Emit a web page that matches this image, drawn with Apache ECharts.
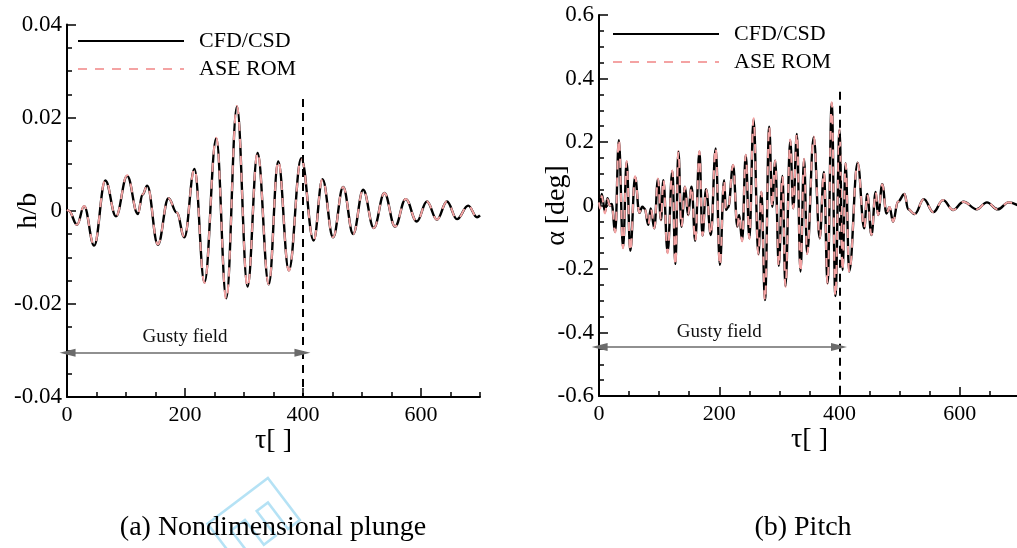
<!DOCTYPE html>
<html>
<head>
<meta charset="utf-8">
<script src="https://cdn.jsdelivr.net/npm/echarts@6/dist/echarts.min.js"></script>
<style>
html,body{margin:0;padding:0;background:#fff;}
#c{width:1017px;height:548px;}
</style>
</head>
<body>
<div id="c"></div>
<script>
// ---------- data ----------
var xMajorTicks = [0, 200, 400, 600];

// (a) Nondimensional plunge h/b
var plungeTau = [0, 3, 17, 29, 46, 65, 83, 102, 120, 128, 136, 154, 172, 186, 199, 216, 233, 253, 270, 288,
  306, 323, 342, 358, 376, 397, 418, 433, 451, 468, 485, 502, 520, 538, 556, 574, 593, 610, 627, 644,
  661, 680, 695, 700];
var plungeCfd = [0.0002, 0, -0.003, 0.001, -0.0075, 0.0065, -0.0012, 0.0075, -0.0007, 0.0035, 0.0054, -0.0073, 0.0027, -0.0004, -0.0057, 0.009, -0.0154, 0.0156, -0.0188, 0.0224,
  -0.0163, 0.0124, -0.0158, 0.0106, -0.0128, 0.0113, -0.0064, 0.0068, -0.0057, 0.0051, -0.005, 0.0045, -0.0037, 0.0038, -0.0034, 0.0025, -0.0023, 0.002, -0.0019, 0.002,
  -0.0018, 0.0011, -0.0014, -0.001];
var plungeRom = [0.0002, 0, -0.003, 0.001, -0.0074, 0.0066, -0.0012, 0.0076, -0.0007, 0.0035, 0.0054, -0.0072, 0.0027, -0.0004, -0.0057, 0.009, -0.0155, 0.0157, -0.0191, 0.0225,
  -0.0164, 0.0125, -0.0158, 0.0107, -0.0129, 0.0112, -0.0064, 0.0068, -0.0057, 0.0051, -0.005, 0.0045, -0.0037, 0.0038, -0.0034, 0.0025, -0.0023, 0.002, -0.0019, 0.002,
  -0.0018, 0.0011, -0.0014, -0.001];

// (b) Pitch alpha [deg]
var pitchTau = [0, 2, 4.5, 10, 14, 18, 21, 27, 33, 40, 46, 52, 60, 67, 72, 76, 82, 86, 92, 98,
  103, 107, 114, 122, 127, 132, 137, 143, 148, 154, 160, 167, 172, 178, 186, 194, 201, 208, 211, 215,
  223, 230, 233, 238, 244, 250, 257, 265, 270, 276, 283, 288, 293, 299, 305, 310, 318, 323, 329, 335,
  341, 346, 357, 367, 374, 380, 387, 393, 400, 405, 410, 416, 430, 441, 446, 453, 460, 464, 471, 478,
  483, 489, 497, 508, 514, 525, 540, 556, 572, 589, 606, 628, 645, 663, 681, 700];
var pitchCfd = [0.01, 0, 0.036, -0.02, 0.023, 0, 0.005, -0.083, 0.206, -0.132, 0.138, -0.143, 0.09, -0.023, -0.004, -0.01, -0.061, -0.009, -0.072, 0.083,
  -0.046, 0.08, -0.147, 0.109, -0.184, 0.17, -0.067, 0.059, -0.03, 0.059, -0.111, 0.17, -0.095, 0.051, -0.093, 0.18, -0.187, 0.08, -0.014, -0.005,
  0.127, -0.067, -0.03, -0.111, 0.159, -0.103, 0.271, -0.153, 0.043, -0.298, 0.248, -0.004, 0.141, -0.19, 0.093, -0.254, 0.206, -0.009, 0.225, -0.208,
  0.146, -0.151, 0.215, -0.103, 0.106, -0.245, 0.322, -0.285, 0.238, -0.203, 0.133, -0.208, 0.135, -0.072, 0.036, -0.093, 0.043, -0.03, 0.067, -0.025,
  -0.005, -0.051, 0.012, 0.036, -0.012, -0.027, 0.02, -0.021, 0.017, -0.014, 0.012, -0.012, 0.01, -0.012, 0.01, -0.004];
var pitchRom = [0.01, -0.01, 0.03, -0.025, 0.02, 0, 0.005, -0.085, 0.21, -0.135, 0.14, -0.145, 0.092, -0.023, -0.004, -0.01, -0.061, -0.009, -0.072, 0.085,
  -0.046, 0.082, -0.15, 0.11, -0.19, 0.172, -0.067, 0.059, -0.03, 0.059, -0.113, 0.172, -0.095, 0.051, -0.093, 0.182, -0.19, 0.08, -0.014, -0.005,
  0.128, -0.067, -0.03, -0.113, 0.16, -0.105, 0.275, -0.155, 0.043, -0.3, 0.25, -0.004, 0.142, -0.192, 0.093, -0.256, 0.208, -0.009, 0.227, -0.21,
  0.147, -0.153, 0.217, -0.103, 0.106, -0.247, 0.325, -0.287, 0.24, -0.205, 0.133, -0.21, 0.135, -0.072, 0.036, -0.093, 0.043, -0.03, 0.067, -0.025,
  -0.005, -0.051, 0.012, 0.036, -0.012, -0.027, 0.02, -0.021, 0.017, -0.014, 0.012, -0.012, 0.01, -0.012, 0.01, -0.004];

// ---------- build chart ----------
function pairs(xs, ys) { return xs.map(function (x, i) { return [x, ys[i]]; }); }

var SERIF = '"Liberation Serif", "Times New Roman", serif';
var BLACK = '#000000';
var PINK = '#f4a3a3';
var GRAY = '#6b6b6b';

function minorXAxis(g) {
  return {
    type: 'value', gridIndex: g, position: 'bottom', min: 0, max: 700, interval: 50,
    axisLine: { show: true, onZero: false, lineStyle: { color: BLACK, width: 2 } },
    axisTick: { show: true, inside: true, length: 5, lineStyle: { color: BLACK, width: 1.5 } },
    axisLabel: { show: false }, splitLine: { show: false }
  };
}
function majorXAxis(g, gap) {
  return {
    type: 'value', gridIndex: g, position: 'bottom', min: 0, max: 700, interval: 200,
    name: 'τ[ ]', nameLocation: 'middle', nameGap: gap, nameMoveOverlap: false,
    nameTextStyle: { fontFamily: SERIF, fontSize: 28, color: BLACK },
    axisLine: { show: false, onZero: false },
    axisTick: { show: true, inside: true, length: 9, customValues: xMajorTicks, lineStyle: { color: BLACK, width: 1.5 } },
    axisLabel: { show: true, customValues: xMajorTicks, margin: 7,
      fontFamily: SERIF, fontSize: 22, color: BLACK },
    splitLine: { show: false }
  };
}
function yAxis(g, mn, mx, iv, name, gap) {
  return {
    type: 'value', gridIndex: g, min: mn, max: mx, interval: iv,
    name: name, nameLocation: 'middle', nameGap: gap, nameMoveOverlap: false,
    nameTextStyle: { fontFamily: SERIF, fontSize: 28, color: BLACK },
    axisLine: { show: true, onZero: false, lineStyle: { color: BLACK, width: 2 } },
    axisTick: { show: true, inside: true, length: 9, lineStyle: { color: BLACK, width: 1.5 } },
    minorTick: { show: true, splitNumber: 4, length: 5, lineStyle: { color: BLACK, width: 1.5 } },
    axisLabel: { margin: 5, fontFamily: SERIF, fontSize: 23, color: BLACK },
    splitLine: { show: false }, minorSplitLine: { show: false }
  };
}
function cfdSeries(xi, yi, data, vline) {
  return {
    name: 'CFD/CSD', type: 'line', xAxisIndex: xi, yAxisIndex: yi, data: data,
    symbol: 'none', showSymbol: false, smooth: 0.4, smoothMonotone: 'x',
    lineStyle: { color: BLACK, width: 2.4 }, itemStyle: { color: BLACK },
    z: 3,
    markLine: {
      silent: true, symbol: 'none', animation: false,
      label: { show: false },
      lineStyle: { color: BLACK, width: 2, type: [8, 6] },
      data: [[{ coord: [400, vline[0]] }, { coord: [400, vline[1]] }]]
    }
  };
}
function romSeries(xi, yi, data, arrowY) {
  return {
    name: 'ASE ROM', type: 'line', xAxisIndex: xi, yAxisIndex: yi, data: data,
    symbol: 'none', showSymbol: false, smooth: 0.4, smoothMonotone: 'x',
    lineStyle: { color: PINK, width: 2, type: [9, 8] }, itemStyle: { color: PINK },
    z: 4,
    markLine: {
      silent: true, animation: false,
      symbol: ['triangle', 'triangle'], symbolSize: [8, 16],
      lineStyle: { color: GRAY, width: 1.6, type: 'solid' },
      itemStyle: { color: GRAY },
      label: { show: true, formatter: 'Gusty field', position: 'insideMiddleTop', distance: 6,
        fontFamily: SERIF, fontSize: 19, color: '#111' },
      data: [[{ coord: [1, arrowY] }, { coord: [399, arrowY] }]]
    }
  };
}
function legend(left, top) {
  return {
    left: left, top: top, orient: 'vertical', padding: 0,
    itemWidth: 106, itemHeight: 14, itemGap: 6,
    selectedMode: false, data: ['CFD/CSD', 'ASE ROM'],
    itemStyle: { opacity: 0, borderWidth: 0 },
    textStyle: { fontFamily: SERIF, fontSize: 22, lineHeight: 22, color: BLACK, padding: [0, 0, 0, 10] }
  };
}

var chart = echarts.init(document.getElementById('c'), null, { renderer: 'canvas' });
chart.setOption({
  animation: false,
  backgroundColor: '#ffffff',
  grid: [
    { left: 67, top: 24.5, width: 413, height: 372.5, containLabel: false, outerBoundsMode: 'none' },
    { left: 599, top: 15, width: 421, height: 381, containLabel: false, outerBoundsMode: 'none' }
  ],
  xAxis: [minorXAxis(0), majorXAxis(0, 30), minorXAxis(1), majorXAxis(1, 30)],
  yAxis: [
    yAxis(0, -0.04, 0.04, 0.02, 'h/b', 24),
    yAxis(1, -0.6, 0.6, 0.2, 'α [deg]', 28)
  ],
  legend: [legend(77, 30), legend(612, 23)],
  series: [
    cfdSeries(0, 0, pairs(plungeTau, plungeCfd), [0.024, -0.04]),
    romSeries(0, 0, pairs(plungeTau, plungeRom), -0.0305),
    cfdSeries(2, 1, pairs(pitchTau, pitchCfd), [0.358, -0.6]),
    romSeries(2, 1, pairs(pitchTau, pitchRom), -0.446)
  ],
  graphic: [
    {
      type: 'group', x: 258, y: 486, rotation: -0.92, z: 0, silent: true,
      children: [{
        type: 'text', x: -10, y: -16,
        style: { text: 'E', font: 'bold 104px "DejaVu Sans", sans-serif', fill: 'none',
          stroke: '#b5e2f5', lineWidth: 2.5, textAlign: 'left', textVerticalAlign: 'top' }
      }]
    },
    { type: 'text', x: 273, y: 528, z: 10, silent: true,
      style: { text: '(a) Nondimensional plunge', font: '28px ' + SERIF, fill: BLACK,
        textAlign: 'center', textVerticalAlign: 'middle' } },
    { type: 'text', x: 803, y: 528, z: 10, silent: true,
      style: { text: '(b) Pitch', font: '28px ' + SERIF, fill: BLACK,
        textAlign: 'center', textVerticalAlign: 'middle' } }
  ]
});
</script>
</body>
</html>
